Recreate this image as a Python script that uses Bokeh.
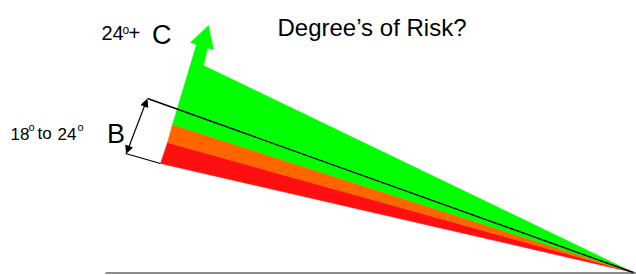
from bokeh.plotting import figure
from bokeh.models import ColumnDataSource, Range1d, Arrow, NormalHead
from bokeh.core.properties import value
from bokeh.embed import file_html
from bokeh.resources import INLINE

# --- diagram data (reference pixel coordinates, y grows downward) ---
apex = (633, 272)

band_names = ["red", "orange", "green"]
band_colors = ["#ff0f0f", "#ff6600", "#00ff00"]
# red band: left-edge bottom / top
red_x = [160, 167, apex[0]]
red_y = [163, 142, apex[1]]
# orange band
orange_x = [167, 172, apex[0]]
orange_y = [142, 124, apex[1]]
# green band with the arrow on its upper-left corner
green_x = [172, 196, 190, 208, 213, 207, 203, apex[0]]
green_y = [124, 44, 42, 25, 49, 47.5, 65, apex[1]]

# black guide line and short base line
guide_x = [147, apex[0]]
guide_y = [98, apex[1]]
base_x = [125, 160]
base_y = [153, 163]
# double-headed measuring arrow
meas_start = (146.5, 99)
meas_end = (126, 152.5)
# ground line
ground_x = [105, 636]
ground_y = [272.5, 272.5]

# labels
label_text = ["Degree\u2019s of Risk?", "24", "o", "+", "C",
              "18", "o", "to", "24", "o", "B"]
label_x = [277, 101, 122, 128, 151.5, 10, 28, 37, 57, 77, 106.5]
label_y = [27, 32, 29.5, 32, 34, 133, 126.5, 133, 133, 126.5, 133]
label_size = ["24px", "20px", "12px", "20px", "27px",
              "17px", "11px", "17px", "17px", "11px", "27px"]

FONT = value("Liberation Sans")

p = figure(width=636, height=275,
           x_range=Range1d(0, 636), y_range=Range1d(275, 0),
           x_axis_type=None, y_axis_type=None,
           output_backend="svg", toolbar_location=None, min_border=0)
p.grid.visible = False
p.outline_line_color = None
p.background_fill_color = "white"
p.border_fill_color = "white"

bands = ColumnDataSource(dict(
    xs=[red_x, orange_x, green_x],
    ys=[red_y, orange_y, green_y],
    color=band_colors,
    name=band_names,
))
p.patches("xs", "ys", source=bands, fill_color="color", line_color="color",
          line_width=0.5)

p.line(ground_x, ground_y, line_color="#8c8c8c", line_width=2)
p.line(guide_x, guide_y, line_color="black", line_width=1.4)
p.line(base_x, base_y, line_color="black", line_width=1.2)

p.add_layout(Arrow(
    start=NormalHead(size=7, fill_color="black", line_color="black"),
    end=NormalHead(size=7, fill_color="black", line_color="black"),
    x_start=meas_start[0], y_start=meas_start[1],
    x_end=meas_end[0], y_end=meas_end[1],
    line_color="black", line_width=1.2))

labels = ColumnDataSource(dict(x=label_x, y=label_y, text=label_text,
                               size=label_size))
p.text("x", "y", text="text", source=labels, text_font=FONT,
       text_font_size="size", text_color="black",
       text_align="left", text_baseline="alphabetic")

open("out.html", "w").write(file_html(p, INLINE))
